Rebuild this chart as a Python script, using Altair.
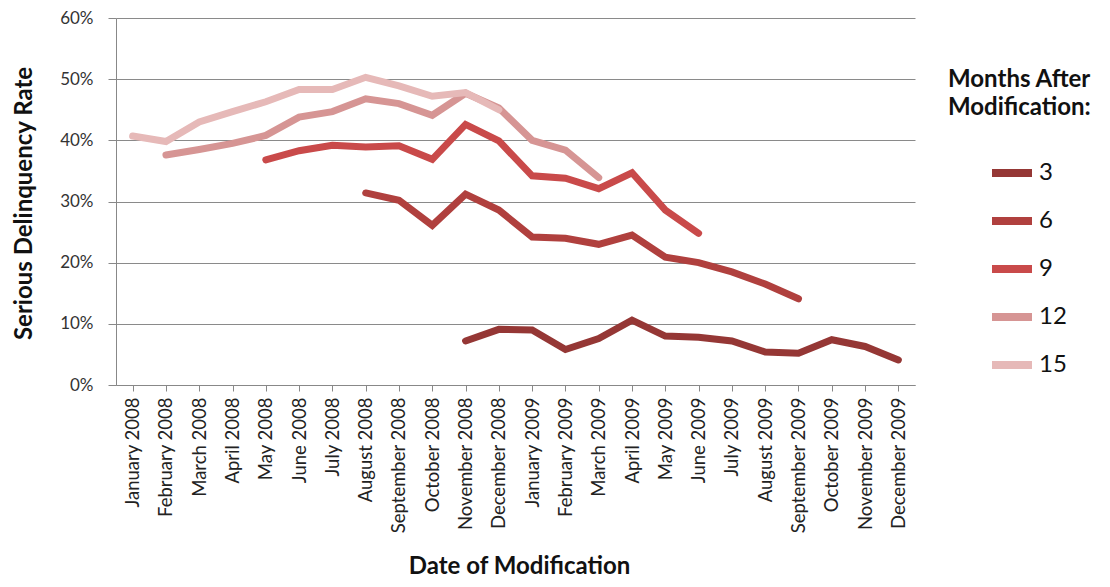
import altair as alt
import pandas as pd

months = ["January 2008", "February 2008", "March 2008", "April 2008", "May 2008",
          "June 2008", "July 2008", "August 2008", "September 2008", "October 2008",
          "November 2008", "December 2008", "January 2009", "February 2009",
          "March 2009", "April 2009", "May 2009", "June 2009", "July 2009",
          "August 2009", "September 2009", "October 2009", "November 2009",
          "December 2009"]

N = None
s3 = [N, N, N, N, N, N, N, N, N, N, 7.2, 9.1, 9.0, 5.8, 7.6, 10.6, 8.0, 7.8, 7.2, 5.4, 5.2, 7.4, 6.3, 4.1]
s6 = [N, N, N, N, N, N, N, 31.4, 30.2, 26.1, 31.2, 28.6, 24.2, 24.0, 23.0, 24.5, 20.9, 20.0, 18.5, 16.5, 14.1, N, N, N]
s9 = [N, N, N, N, 36.8, 38.3, 39.2, 38.9, 39.1, 36.9, 42.6, 39.9, 34.2, 33.8, 32.1, 34.7, 28.6, 24.8, N, N, N, N, N, N]
s12 = [N, 37.6, 38.5, 39.5, 40.8, 43.8, 44.7, 46.8, 46.0, 44.1, 47.7, 45.3, 40.0, 38.4, 33.9, N, N, N, N, N, N, N, N, N]
s15 = [40.7, 39.8, 43.0, 44.7, 46.3, 48.3, 48.3, 50.3, 48.9, 47.2, 47.8, 45.0, N, N, N, N, N, N, N, N, N, N, N, N]

series_names = ["3", "6", "9", "12", "15"]
series_values = [s3, s6, s9, s12, s15]
colors = ["#953735", "#b0403e", "#c94a4a", "#d69594", "#e6b9b8"]

rows = []
for name, vals in zip(series_names, series_values):
    for m, v in zip(months, vals):
        if v is not None:
            rows.append({"month": m, "series": name, "rate": v / 100.0})
df = pd.DataFrame(rows)

FONT = "Lato"

lines = alt.Chart(df).mark_line(strokeWidth=7, strokeCap="round", strokeJoin="miter").encode(
    x=alt.X("month:N", sort=months, scale=alt.Scale(domain=months, paddingInner=0, paddingOuter=0),
            axis=alt.Axis(title="Date of Modification", labelAngle=-90, labelAlign="right",
                          labelBaseline="middle", labelFontSize=18.5, labelColor="#222222",
                          labelPadding=6, bandPosition=0, tickSize=6, tickColor="#888888",
                          domainColor="#888888", grid=False,
                          titleFontSize=24, titleFontWeight="bold", titleColor="#111111",
                          titleX=403, titleY=188, titleBaseline="alphabetic", titleAlign="center")),
    y=alt.Y("rate:Q", scale=alt.Scale(domain=[0, 0.6]),
            axis=alt.Axis(title="Serious Delinquency Rate", format=".0%", values=[0, 0.1, 0.2, 0.3, 0.4, 0.5, 0.6],
                          labelFontSize=17, labelColor="#333333", labelPadding=15,
                          tickSize=8, tickColor="#888888", domainColor="#888888",
                          gridColor="#8a8a8a", gridWidth=1,
                          titleFontSize=24, titleFontWeight="bold", titleColor="#111111",
                          titleAngle=-90, titleX=-92, titleY=185, titleAlign="center",
                          titleBaseline="middle")),
    color=alt.Color("series:N", scale=alt.Scale(domain=series_names, range=colors),
                    legend=alt.Legend(title=None, orient="none", legendX=872, legendY=131,
                                      symbolType="stroke", symbolSize=1600, symbolStrokeWidth=8,
                                      labelFontSize=24, labelColor="#111111", labelOffset=3,
                                      rowPadding=8, labelFont=FONT)),
    detail="series:N",
)

title_text = alt.Chart(pd.DataFrame({"t": [0]})).mark_text(
    text=["Months After", "Modification:"], font=FONT, fontSize=24, fontWeight="bold",
    align="left", baseline="alphabetic", lineHeight=28, color="#111111"
).encode(x=alt.value(832), y=alt.value(69))

chart = alt.layer(lines, title_text).properties(
    width=799, height=367,
    autosize=alt.AutoSizeParams(type="none"),
    padding={"left": 108, "top": 10, "right": 186, "bottom": 194},
).configure(font=FONT).configure_view(stroke=None)

chart.save("out.html", embed_options={"renderer": "svg", "actions": False})
